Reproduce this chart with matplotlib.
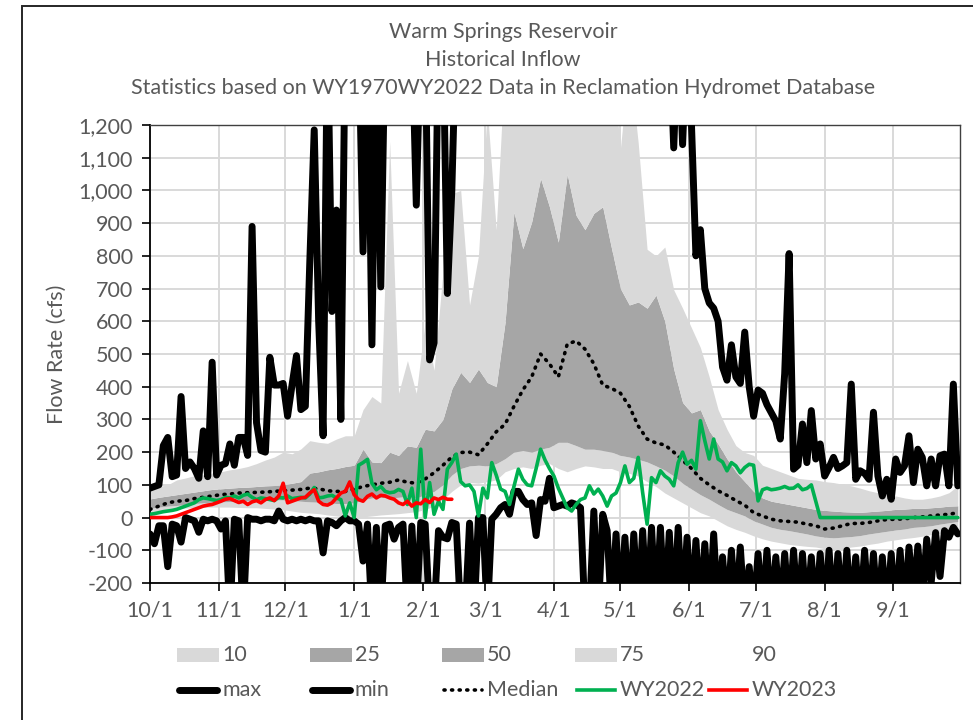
import numpy as np
import matplotlib
matplotlib.use("Agg")
import matplotlib.pyplot as plt
from matplotlib.ticker import FuncFormatter, MultipleLocator
from matplotlib.patches import Rectangle
from matplotlib.lines import Line2D

plt.rcParams['font.family'] = ['Lato', 'DejaVu Sans']

W, H = 973, 720
TEXT = '#595959'
LIGHT = '#d9d9d9'
DARK = '#a6a6a6'

# water-year day of the first of each month (day 0 = 10/1)
month_days = [0, 31, 61, 92, 123, 151, 182, 212, 243, 273, 304, 335]
month_labels = ['10/1', '11/1', '12/1', '1/1', '2/1', '3/1',
                '4/1', '5/1', '6/1', '7/1', '8/1', '9/1']

# percentile envelopes, every 4th day of the water year (cfs)
p90 = [85, 95, 100, 115, 121, 128, 131, 136, 140, 146,
       150, 156, 165, 176, 185, 200, 195, 210, 235, 230,
       227, 240, 250, 250, 330, 370, 350, 1150, 380, 480,
       380, 600, 450, 750, 990, 1000, 650, 800, 1250, 880,
       1400, 1400, 1400, 1400, 1400, 1400, 1400, 1400, 1400, 1400,
       1400, 1400, 1400, 1130, 1400, 1145, 820, 800, 827, 696,
       640, 580, 520, 430, 330, 270, 220, 199, 190, 160,
       150, 140, 130, 120, 117, 115, 110, 107, 102, 97,
       90, 82, 76, 70, 66, 60, 56, 56, 60, 66,
       76, 97]
p75 = [57, 62, 66, 70, 74, 78, 82, 86, 88, 90,
       92, 93, 95, 97, 98, 100, 105, 110, 136, 140,
       146, 150, 156, 160, 209, 170, 168, 200, 190, 219,
       215, 270, 265, 300, 393, 444, 413, 454, 413, 400,
       597, 934, 822, 904, 1037, 950, 842, 1050, 924, 880,
       930, 950, 822, 700, 650, 659, 640, 680, 600, 454,
       352, 320, 330, 265, 225, 180, 140, 110, 80, 60,
       50, 45, 40, 35, 30, 25, 22, 20, 18, 17,
       16, 18, 20, 22, 25, 26, 28, 28, 30, 32,
       35, 36]
p25 = [28, 32, 35, 37, 40, 43, 45, 47, 48, 49,
       50, 51, 52, 53, 54, 54, 52, 50, 48, 47,
       45, 43, 43, 45, 55, 60, 62, 60, 62, 65,
       60, 70, 80, 100, 130, 150, 158, 160, 158, 165,
       180, 200, 205, 200, 209, 215, 230, 230, 220, 209,
       209, 205, 200, 190, 185, 178, 170, 158, 145, 127,
       105, 87, 70, 56, 40, 25, 15, 5, -10, -20,
       -30, -36, -40, -45, -50, -56, -60, -62, -60, -58,
       -55, -50, -46, -42, -38, -35, -30, -28, -25, -20,
       -16, -12]
p10 = [16, 20, 25, 27, 29, 30, 31, 32, 32, 32,
       31, 30, 30, 28, 26, 24, 20, 16, 14, 12,
       8, 5, 2, 0, 2, 5, 8, 10, 12, 15,
       18, 25, 35, 55, 80, 100, 107, 105, 110, 115,
       140, 150, 155, 150, 160, 165, 150, 140, 150, 158,
       155, 150, 150, 140, 135, 127, 110, 95, 75, 60,
       45, 30, 15, 5, -10, -25, -36, -45, -56, -65,
       -72, -77, -82, -85, -88, -90, -95, -97, -95, -90,
       -87, -82, -78, -72, -68, -64, -61, -57, -52, -48,
       -42, -36]
median = [25, 35, 45, 50, 52, 58, 62, 66, 70, 72,
          75, 76, 77, 78, 80, 82, 84, 86, 90, 88,
          82, 80, 80, 87, 95, 100, 105, 108, 115, 108,
          105, 118, 137, 160, 185, 199, 200, 192, 225, 262,
          285, 340, 390, 430, 500, 470, 430, 530, 540, 515,
          470, 405, 395, 380, 340, 280, 240, 228, 222, 200,
          175, 150, 120, 100, 82, 68, 52, 38, 15, 5,
          -5, -10, -12, -14, -20, -25, -35, -32, -25, -18,
          -18, -15, -10, -6, -5, -4, 0, 2, 5, 8,
          10, 15]

# period-of-record extremes, every 2nd day (values above 1,200 run off the top)
max_cfs = [90, 95, 100, 220, 245, 125, 130, 370, 150, 170,
           150, 120, 265, 125, 475, 130, 160, 165, 225, 160,
           245, 245, 190, 890, 290, 205, 200, 490, 405, 405,
           410, 310, 405, 495, 330, 340, 780, 1185, 600, 250,
           1500, 630, 940, 300, 1500, 1500, 1500, 1500, 812, 1500,
           528, 1500, 705, 1500, 1500, 1500, 1500, 1500, 1500, 1500,
           955, 1500, 1500, 482, 534, 1500, 1500, 685, 1000, 1500,
           1500, 1500, 1500, 1500, 1500, 1500, 1500, 1500, 1500, 1500,
           1500, 1500, 1500, 1500, 1500, 1500, 1500, 1500, 1500, 1500,
           1500, 1500, 1500, 1500, 1500, 1500, 1500, 1500, 1500, 1500,
           1500, 1500, 1500, 1500, 1500, 1500, 1500, 1500, 1500, 1500,
           1500, 1500, 1500, 1500, 1500, 1500, 1500, 1500, 1130, 1500,
           1140, 1500, 1200, 800, 880, 700, 656, 640, 600, 460,
           420, 528, 430, 410, 567, 400, 310, 390, 380, 345,
           320, 295, 240, 440, 807, 148, 160, 286, 168, 327,
           179, 225, 127, 153, 184, 150, 158, 168, 408, 117,
           143, 135, 117, 322, 127, 66, 117, 56, 179, 138,
           158, 250, 107, 209, 184, 97, 179, 97, 189, 194,
           97, 408, 97]
min_cfs = [-50, -80, -25, -25, -150, -20, -25, -75, 0, -5,
           -10, -45, -5, -10, -5, -10, -35, -10, -300, -5,
           -10, -300, 0, -5, -5, -10, -5, -5, -10, 20,
           -5, -10, -5, -10, -5, -10, -5, -10, -10, -108,
           -10, -15, -25, -10, 0, -10, -10, -20, -133, -20,
           -300, -30, -300, -25, -20, -66, -30, -20, -300, -26,
           -300, -15, -20, -300, -300, -40, -60, -65, -15, -20,
           -300, -300, -17, -300, 0, 0, -300, -5, 10, 30,
           40, 10, 80, 80, 55, 40, 45, -55, 55, 50,
           120, 30, 35, 40, 35, 45, 40, 30, -300, -300,
           20, -300, 10, -40, -300, -50, -300, -60, -300, -50,
           -300, -40, -300, -30, -300, -30, -300, -45, -300, -30,
           -300, -60, -300, -70, -300, -80, -300, -50, -300, -120,
           -300, -100, -300, -90, -300, -150, -300, -110, -300, -100,
           -300, -120, -300, -110, -300, -100, -300, -110, -300, -120,
           -300, -110, -300, -100, -300, -110, -300, -100, -300, -120,
           -300, -100, -300, -110, -300, -120, -300, -110, -300, -100,
           -300, -90, -250, -87, -260, -66, -200, -46, -180, -40,
           -60, -30, -50]

# daily inflow for the two most recent water years, every 2nd day
wy2022 = [10, 12, 15, 18, 20, 22, 25, 30, 35, 40,
          45, 55, 60, 58, 55, 52, 55, 62, 60, 66,
          60, 68, 72, 62, 55, 60, 58, 55, 52, 62,
          60, 66, 58, 60, 62, 60, 72, 92, 60, 62,
          66, 68, 60, 55, 5, 45, 0, 160, 168, 178,
          105, 85, 95, 80, 76, 78, 86, 80, 40, 90,
          0, 209, 0, 107, 10, 50, 25, 148, 168, 194,
          110, 97, 100, 80, 5, 90, 60, 168, 130, 87,
          80, 40, 95, 148, 117, 100, 97, 150, 209, 176,
          150, 127, 90, 60, 30, 20, 40, 55, 60, 97,
          72, 87, 66, 35, 66, 75, 107, 158, 107, 120,
          184, 76, -20, 122, 107, 143, 127, 117, 97, 168,
          200, 163, 175, 148, 296, 235, 179, 240, 179, 170,
          143, 168, 158, 137, 153, 163, 160, 51, 85, 90,
          85, 87, 90, 95, 89, 90, 100, 85, 89, 100,
          50, 0, 0, 0, 0, 0, 0, 0, 0, 0,
          0, 0, 0, 0, 0, 0, 0, 0, 0, 0,
          0, 0, 0, 0, 0, 0, 0, 0, 0, 0,
          0, 0, 0]
wy2023 = [0, 0, 0, 0, 0, 2, 5, 10, 15, 20,
          25, 30, 35, 38, 40, 45, 50, 56, 58, 52,
          46, 50, 40, 48, 52, 45, 55, 60, 52, 66,
          105, 45, 50, 55, 60, 62, 75, 85, 50, 40,
          38, 45, 60, 75, 80, 109, 70, 55, 50, 65,
          72, 60, 68, 66, 60, 56, 45, 40, 50, 35,
          45, 42, 55, 46, 60, 55, 62, 56, 56]

band_days = np.arange(len(p90)) * 4
max_days = np.arange(len(max_cfs)) * 2
min_days = np.arange(len(min_cfs)) * 2
wy22_days = np.arange(len(wy2022)) * 2
wy23_days = np.arange(len(wy2023)) * 2

FS = 15.5

fig = plt.figure(figsize=(W / 100, H / 100), dpi=100)
ax = fig.add_axes([150 / W, 137 / H, 810 / W, 458 / H])

# shaded percentile bands
ax.fill_between(band_days, p10, p25, color=LIGHT, lw=0, zorder=1)
ax.fill_between(band_days, p25, p75, color=DARK, lw=0, zorder=1)
ax.fill_between(band_days, p75, p90, color=LIGHT, lw=0, zorder=1)

line_kw = dict(solid_joinstyle='round', solid_capstyle='round')
median_style = dict(color='black', lw=2.6, linestyle=(0, (0.3, 1.8)),
                    dash_capstyle='round')
ax.plot(max_days, max_cfs, color='black', lw=5.0, zorder=3, **line_kw)
ax.plot(min_days, min_cfs, color='black', lw=5.0, zorder=3, **line_kw)
ax.plot(band_days, median, zorder=4, **median_style)
ax.plot(wy22_days, wy2022, color='#00b050', lw=2.6, zorder=5, **line_kw)
ax.plot(wy23_days, wy2023, color='#ff0000', lw=2.6, zorder=6, **line_kw)

ax.set_xlim(0, 365)
ax.set_ylim(-200, 1200)
ax.set_xticks(month_days)
ax.set_xticklabels(month_labels)
ax.yaxis.set_major_locator(MultipleLocator(100))
ax.yaxis.set_major_formatter(FuncFormatter(lambda v, pos: f"{v:,.0f}"))

ax.grid(True, color=LIGHT, lw=1.4)
ax.set_axisbelow(True)
for side in ['left', 'bottom']:
    ax.spines[side].set_color('black')
    ax.spines[side].set_linewidth(1.3)
for side in ['top', 'right']:
    ax.spines[side].set_color('#404040')
    ax.spines[side].set_linewidth(1.0)
ax.tick_params(axis='both', direction='out', length=5.5, width=1.2,
               color='black', labelsize=FS, labelcolor=TEXT, pad=7)

ax.set_ylabel('Flow Rate (cfs)', fontsize=FS, color=TEXT)
ax.yaxis.set_label_coords(-0.103, 0.5)

# three-line heading centred on the chart area
for ypx, line in [(32, 'Warm Springs Reservoir'),
                  (60, 'Historical Inflow'),
                  (88, 'Statistics based on WY1970WY2022 Data in Reclamation Hydromet Database')]:
    fig.text(503 / W, 1 - ypx / H, line, ha='center', va='center',
             fontsize=FS, color=TEXT)

# legend laid out on a fixed grid, two rows of five
col_x = [177 + 132.5 * i for i in range(5)]
row1 = [('10', LIGHT), ('25', DARK), ('50', DARK), ('75', LIGHT), ('90', None)]
for x0, (label, fc) in zip(col_x, row1):
    y = 655
    if fc is not None:
        fig.add_artist(Rectangle((x0 / W, 1 - (y + 7) / H), 42 / W, 14 / H,
                                 facecolor=fc, edgecolor='none',
                                 transform=fig.transFigure))
    fig.text((x0 + 45) / W, 1 - y / H, label, ha='left', va='center',
             fontsize=FS, color=TEXT)

row2 = [('max', dict(color='black', lw=5.0, solid_capstyle='round')),
        ('min', dict(color='black', lw=5.0, solid_capstyle='round')),
        ('Median', median_style),
        ('WY2022', dict(color='#00b050', lw=2.6)),
        ('WY2023', dict(color='#ff0000', lw=2.6))]
for x0, (label, kw) in zip(col_x, row2):
    y = 690
    fig.add_artist(Line2D([(x0 + 2) / W, (x0 + 40) / W], [1 - y / H, 1 - y / H],
                          transform=fig.transFigure, **kw))
    fig.text((x0 + 45) / W, 1 - y / H, label, ha='left', va='center',
             fontsize=FS, color=TEXT)

# chart area frame
fig.add_artist(Rectangle((22 / W, -0.05), 1.0, 1.05 - 6 / H, fill=False,
                         edgecolor='#262626', lw=1.4, transform=fig.transFigure))

fig.savefig('out.png', dpi=100)
